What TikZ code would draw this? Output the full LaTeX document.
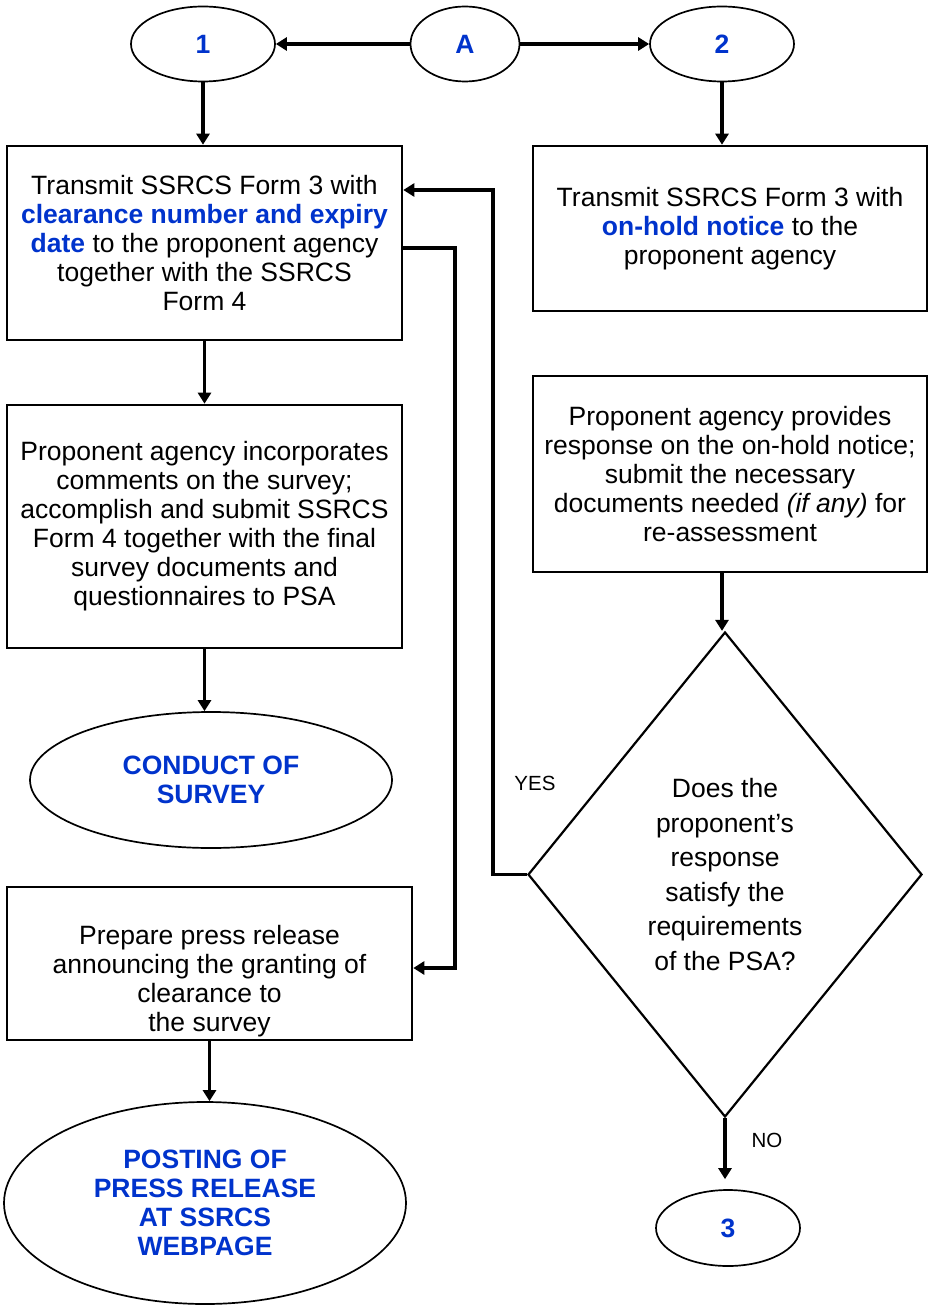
\documentclass[tikz,border=0pt]{standalone}
\usepackage{fontspec}
\setmainfont{Liberation Sans}
\usepackage{xcolor}
\usetikzlibrary{shapes.geometric,arrows.meta}
\definecolor{psablue}{RGB}{0,51,204}
\tikzset{
  procbox/.style={draw,line width=2.6pt,inner sep=0pt,align=center,font=\fontsize{26.5}{29}\selectfont},
  terminal/.style={draw,ellipse,line width=1.7pt,inner sep=0pt,align=center,text=psablue,font=\bfseries\fontsize{26.5}{29}\selectfont},
  decision/.style={draw,diamond,aspect=0.81,line width=2.2pt,inner sep=0pt,align=center,font=\fontsize{26.5}{34.5}\selectfont},
  flowline/.style={line width=3.8pt,-{Triangle[length=11pt,width=13pt]}},
  branch/.style={font=\fontsize{20.5}{24}\selectfont}
}
\newcommand{\hl}[1]{{\bfseries\color{psablue}#1}}

\begin{document}
\begin{tikzpicture}[x=1pt,y=-1pt]
  \useasboundingbox (0,0) rectangle (929,1305);

  % Connector ellipses
  \node[terminal,minimum width=144,minimum height=75] (one) at (203,44) {1};
  \node[terminal,minimum width=109,minimum height=75] (start) at (465,44) {A};
  \node[terminal,minimum width=144,minimum height=75] (two) at (722,44) {2};
  \node[terminal,minimum width=144,minimum height=76] (three) at (728,1228) {3};

  % Left column
  \node[procbox,minimum width=395,minimum height=194] (clear) at (204.5,243)
    {Transmit SSRCS Form 3 with\\\hl{clearance number and expiry}\\\hl{date} to the proponent agency\\together with the SSRCS\\Form 4};
  \node[procbox,minimum width=395,minimum height=243] (incorp) at (204.5,526.5)
    {Proponent agency incorporates\\comments on the survey;\\accomplish and submit SSRCS\\Form 4 together with the final\\survey documents and\\questionnaires to PSA};
  \node[terminal,minimum width=362,minimum height=136] (conduct) at (211,780) {CONDUCT OF\\SURVEY};
  \node[procbox,minimum width=405,minimum height=153] (press) at (209.5,963.5)
    {\mbox{}\\[25pt]Prepare press release\\announcing the granting of\\clearance to\\the survey};
  \node[terminal,minimum width=402,minimum height=202] (posting) at (205,1203)
    {POSTING OF\\PRESS RELEASE\\AT SSRCS\\WEBPAGE};

  % Right column
  \node[procbox,minimum width=394,minimum height=165] (hold) at (730,228.5)
    {Transmit SSRCS Form 3 with\\\hl{on-hold notice} to the\\proponent agency};
  \node[procbox,minimum width=394,minimum height=196] (reply) at (730,474)
    {Proponent agency provides\\response on the on-hold notice;\\submit the necessary\\documents needed \textit{(if any)} for\\re-assessment};
  \node[decision,minimum width=394,minimum height=485] (check) at (725,874.5)
    {Does the\\proponent's\\response\\satisfy the\\requirements\\of the PSA?};

  % Branch labels
  \node[branch] (yes) at (535,783) {YES};
  \node[branch] (no) at (767,1140) {NO};

  % Corners of the loop lines
  \coordinate (yestop) at (493,190);
  \coordinate (relout) at (455,248);
  \coordinate (relin) at (455,968);

  % Arrows
  \draw[flowline] (start.west) -- (one.east);
  \draw[flowline] (start.east) -- (two.west);
  \draw[flowline] (one.south) -- (one.south |- clear.north);
  \draw[flowline] (two.south) -- (two.south |- hold.north);
  \draw[flowline] (clear.south) -- (clear.south |- incorp.north);
  \draw[flowline] (incorp.south) -- (incorp.south |- conduct.north);
  \draw[flowline] (press.south) -- (press.south |- posting.north);
  \draw[flowline] (two.south |- reply.south) -- (two.south |- check.north);
  \draw[flowline,shorten >=10pt] (check.south) -- (check.south |- three.north);
  \draw[flowline] (check.west) -| (yestop) -- (yestop -| clear.east);
  \draw[flowline] (relout -| clear.east) -- (relout) -- (relin) -- (relin -| press.east);
\end{tikzpicture}
\end{document}
